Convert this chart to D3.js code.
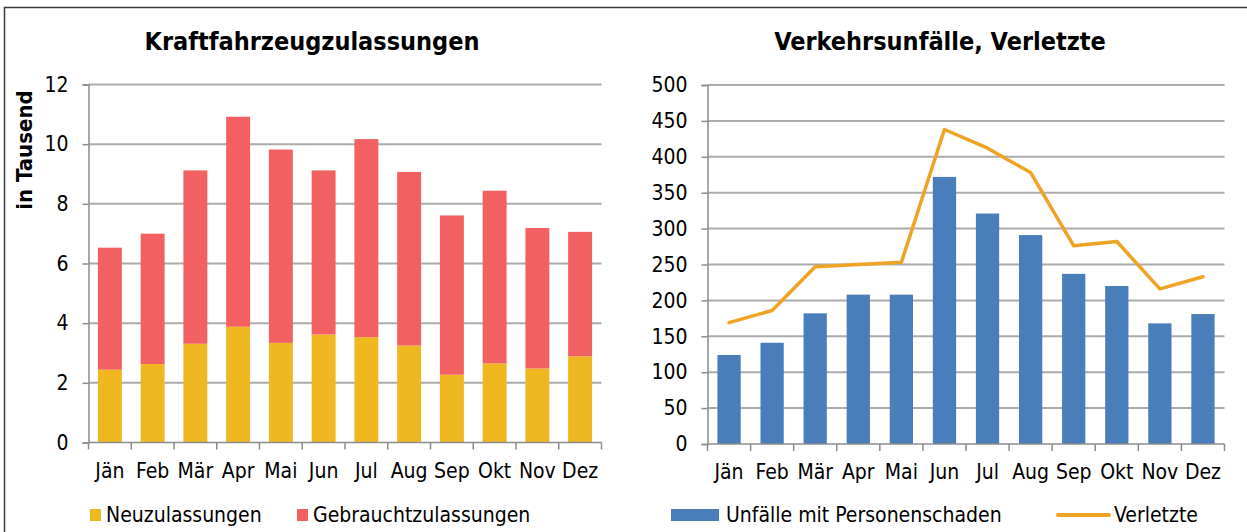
<!DOCTYPE html>
<html lang="de">
<head>
<meta charset="UTF-8">
<title>Kraftfahrzeugzulassungen / Verkehrsunfälle</title>
<script src="https://d3js.org/d3.v7.min.js"></script>
<style>
  html, body { margin: 0; padding: 0; background: #fff; }
  svg text { font-family: "DejaVu Sans Condensed", "DejaVu Sans", sans-serif; fill: #000; }
  .title { font-size: 25px; font-weight: bold; text-anchor: middle; }
  .tick text { font-size: 21px; }
  .legend text { font-size: 21px; }
</style>
</head>
<body>
<div id="chart"></div>
<script>
// Monate
const months = ["Jän", "Feb", "Mär", "Apr", "Mai", "Jun", "Jul", "Aug", "Sep", "Okt", "Nov", "Dez"];

// Kraftfahrzeugzulassungen (in Tausend)
const neuzulassungen = [2.44, 2.63, 3.31, 3.88, 3.34, 3.62, 3.53, 3.25, 2.27, 2.65, 2.48, 2.89];
const gesamtzulassungen = [6.53, 7.00, 9.12, 10.92, 9.82, 9.12, 10.17, 9.07, 7.61, 8.44, 7.19, 7.06];
const gebrauchtzulassungen = gesamtzulassungen.map((t, i) => +(t - neuzulassungen[i]).toFixed(2));
const kfzTicks = [0, 2, 4, 6, 8, 10, 12];

// Verkehrsunfälle, Verletzte
const unfaelle = [124, 141, 182, 208, 208, 372, 321, 291, 237, 220, 168, 181];
const verletzte = [169, 186, 247, 250, 253, 438, 412, 378, 276, 282, 216, 233];
const unfallTicks = [0, 50, 100, 150, 200, 250, 300, 350, 400, 450, 500];

const colors = { neu: "#EFB820", gebraucht: "#F26062", unfall: "#4A7EBB", verletzte: "#EFA323" };

const width = 1247, height = 532;
const svg = d3.select("#chart").append("svg")
  .attr("width", width).attr("height", height);

// Rahmen
svg.append("rect")
  .attr("x", 4.5).attr("y", 7.5).attr("width", 1260).attr("height", 540)
  .attr("fill", "none").attr("stroke", "#3a3a3a").attr("stroke-width", 1.5);

function drawFrame(g, x, y, ticks) {
  // Gitterlinien
  g.append("g")
    .selectAll("line").data(ticks.slice(1)).join("line")
    .attr("x1", x.range()[0]).attr("x2", x.range()[1])
    .attr("y1", d => y(d)).attr("y2", d => y(d))
    .attr("stroke", "#ababab").attr("stroke-width", 2);

  const yAxis = g.append("g")
    .attr("transform", `translate(${x.range()[0]},0)`)
    .call(d3.axisLeft(y).tickValues(ticks).tickSize(6).tickPadding(14));
  yAxis.select(".domain").attr("stroke", "#8c8c8c").attr("stroke-width", 1.5);
  yAxis.selectAll(".tick line").attr("stroke", "#8c8c8c").attr("stroke-width", 1.5);
  return yAxis;
}

function drawXAxis(g, x, y) {
  const x0 = x.range()[0], bw = x.step();
  const bounds = d3.range(months.length + 1).map(i => x0 + i * bw);
  g.append("line")
    .attr("x1", x0).attr("x2", x.range()[1])
    .attr("y1", y(0)).attr("y2", y(0))
    .attr("stroke", "#8c8c8c").attr("stroke-width", 1.5);
  g.append("g").selectAll("line").data(bounds).join("line")
    .attr("x1", d => d).attr("x2", d => d)
    .attr("y1", y(0)).attr("y2", y(0) + 7)
    .attr("stroke", "#8c8c8c").attr("stroke-width", 1.5);
  g.append("g").attr("class", "tick").selectAll("text").data(months).join("text")
    .attr("x", d => x(d) + x.bandwidth() / 2)
    .attr("y", y(0) + 35)
    .attr("text-anchor", "middle")
    .text(d => d);
}

// ---------- Linkes Diagramm ----------
const left = svg.append("g");
const x1 = d3.scaleBand().domain(months).range([88.5, 601.5]).paddingInner(0.44).paddingOuter(0.22);
const y1 = d3.scaleLinear().domain([0, 12]).range([442.5, 84.5]);

left.append("text").attr("class", "title").attr("x", 312).attr("y", 50).text("Kraftfahrzeugzulassungen");
drawFrame(left, x1, y1, kfzTicks);

const stacked = d3.stack().keys(["neu", "gebraucht"])(
  months.map((m, i) => ({ month: m, neu: neuzulassungen[i], gebraucht: gebrauchtzulassungen[i] })));

left.append("g").selectAll("g").data(stacked).join("g")
  .attr("fill", d => colors[d.key])
  .selectAll("rect").data(d => d).join("rect")
  .attr("x", d => x1(d.data.month))
  .attr("width", x1.bandwidth())
  .attr("y", d => y1(d[1]))
  .attr("height", d => y1(d[0]) - y1(d[1]));

drawXAxis(left, x1, y1);

left.append("text")
  .attr("transform", "translate(32,150) rotate(-90)")
  .attr("text-anchor", "middle")
  .style("font-size", "22px").style("font-weight", "bold")
  .text("in Tausend");

// Legende links
const legL = left.append("g").attr("class", "legend");
[["Neuzulassungen", colors.neu, 90], ["Gebrauchtzulassungen", colors.gebraucht, 297]].forEach(([label, c, lx]) => {
  legL.append("rect").attr("x", lx).attr("y", 509).attr("width", 11).attr("height", 12).attr("fill", c);
  legL.append("text").attr("x", lx + 16).attr("y", 522).text(label);
});

// ---------- Rechtes Diagramm ----------
const right = svg.append("g");
const x2 = d3.scaleBand().domain(months).range([707.5, 1224.5]).paddingInner(0.46).paddingOuter(0.23);
const y2 = d3.scaleLinear().domain([0, 500]).range([444, 85]);

right.append("text").attr("class", "title").attr("x", 940).attr("y", 50).text("Verkehrsunfälle, Verletzte");
drawFrame(right, x2, y2, unfallTicks);

right.append("g").selectAll("rect").data(unfaelle).join("rect")
  .attr("fill", colors.unfall)
  .attr("x", (d, i) => x2(months[i]))
  .attr("width", x2.bandwidth())
  .attr("y", d => y2(d))
  .attr("height", d => y2(0) - y2(d));

drawXAxis(right, x2, y2);

const line = d3.line()
  .x((d, i) => x2(months[i]) + x2.bandwidth() / 2)
  .y(d => y2(d));
right.append("path").datum(verletzte)
  .attr("d", line)
  .attr("fill", "none")
  .attr("stroke", colors.verletzte)
  .attr("stroke-width", 3.5)
  .attr("stroke-linejoin", "round")
  .attr("stroke-linecap", "round");

// Legende rechts
const legR = right.append("g").attr("class", "legend");
legR.append("rect").attr("x", 671).attr("y", 509).attr("width", 48).attr("height", 12).attr("fill", colors.unfall);
legR.append("text").attr("x", 726).attr("y", 522).text("Unfälle mit Personenschaden");
legR.append("line").attr("x1", 1058).attr("x2", 1109).attr("y1", 515).attr("y2", 515)
  .attr("stroke", colors.verletzte).attr("stroke-width", 4).attr("stroke-linecap", "round");
legR.append("text").attr("x", 1114).attr("y", 522).text("Verletzte");
</script>
</body>
</html>
